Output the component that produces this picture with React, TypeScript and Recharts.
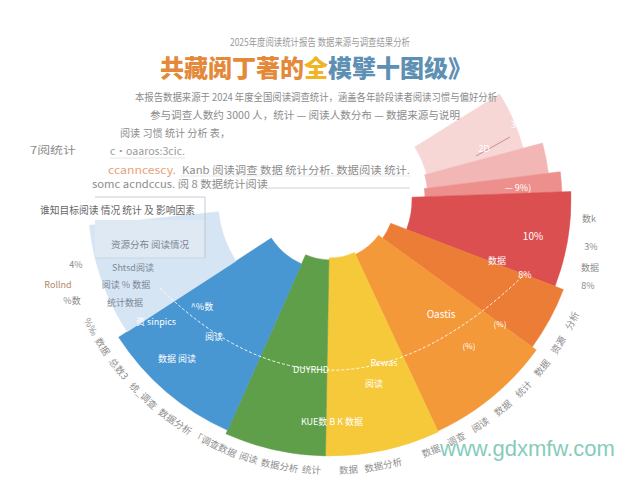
import React from "react";
import { PieChart, Pie, Cell } from "recharts";

// ---- data ----
const categories = ["浅粉", "粉", "鲑红", "红", "深橙", "橙", "黄", "绿", "蓝", "浅蓝"];
const values = [17, 8, 5, 23, 15, 29, 26, 23, 33, 27];
const colors = ["#f7d6d6", "#f2b6b5", "#ed8f8c", "#dc4f50", "#ec7d37", "#f4993a", "#f6c93a", "#5f9f4a", "#4896d2", "#d6e5f4"];
const outerR = [200, 220, 232, 241, 250, 255, 256, 256, 252, 242];
const innerR = [100, 98, 95, 82, 65, 60, 58, 60, 70, 112];

const titleParts = ["共藏阅丁著的", "全", "模擘十图级》"];
const topLine = "2025年度阅读统计报告 数据来源与调查结果分析";
const subLine1 = "本报告数据来源于 2024 年度全国阅读调查统计，涵盖各年龄段读者阅读习惯与偏好分析";
const subLine2 = "参与调查人数约 3000 人，统计 — 阅读人数分布 — 数据来源与说明";
const leftWords = ["%‰", "数据", "总数3", "统_调查", "数据分析", "「调查数据", "阅读", "数据分析", "统计"];
const bottomWords = ["数据", "数据分析"];
const rightWords = ["数据", "调查", "阅读", "数据", "统计", "数据", "资源", "分析"];

const CX = 330;
const CY = 200;
const START = 32;
const SPAN = 206;
const RING = 270;
const FONT = "'Noto Sans CJK SC', 'Noto Sans', sans-serif";

const total = values.reduce((a, b) => a + b, 0);
const K = SPAN / total;
const starts: number[] = [];
values.reduce((acc, v, i) => {
  starts[i] = acc;
  return acc - v * K;
}, START);

function pt(a: number, r: number) {
  const rad = (a * Math.PI) / 180;
  return [CX + r * Math.cos(rad), CY - r * Math.sin(rad)];
}

// lay words along the outer ring, from angle a0 increasing (left -> bottom -> right)
function layWords(words: string[], a0: number, gap: number) {
  const out: { t: string; a: number }[] = [];
  let a = a0;
  words.forEach((w) => {
    const len = w.length * 9;
    const da = (len / RING) * (180 / Math.PI);
    out.push({ t: w, a: a + da / 2 });
    a += da + (gap / RING) * (180 / Math.PI);
  });
  return out;
}
const ringWords = [
  ...layWords(leftWords, -154, 5),
  ...layWords(bottomWords, -88, 8),
  ...layWords(rightWords, -70, 10),
];

const inLabels = [
  { t: "30%", x: 520, y: 128, c: "#fff", s: 9 },
  { t: "2D", x: 484, y: 152, c: "#fff", s: 9 },
  { t: "— 9%)", x: 518, y: 191, c: "#fff", s: 9 },
  { t: "10%", x: 533, y: 240, c: "#fff", s: 10 },
  { t: "数据", x: 497, y: 264, c: "#fff", s: 9 },
  { t: "8%", x: 525, y: 278, c: "#fff", s: 9 },
  { t: "Oastis", x: 441, y: 318, c: "#fff", s: 10 },
  { t: "(%)", x: 500, y: 327, c: "#fff", s: 8 },
  { t: "(%)", x: 469, y: 349, c: "#fff", s: 8 },
  { t: "Rewas", x: 384, y: 366, c: "#fff", s: 9 },
  { t: "阅读", x: 374, y: 387, c: "#fff", s: 9 },
  { t: "DUYRHD", x: 311, y: 373, c: "#fff", s: 9 },
  { t: "KUE数 B K 数据", x: 332, y: 425, c: "#fff", s: 9 },
  { t: "资 sinpics", x: 156, y: 325, c: "#fff", s: 9 },
  { t: "^%数", x: 202, y: 310, c: "#fff", s: 9 },
  { t: "阅读", x: 214, y: 340, c: "#fff", s: 9 },
  { t: "数据 阅读", x: 177, y: 362, c: "#fff", s: 9 },
  { t: "资源分布 阅读情况", x: 150, y: 248, c: "#7d8793", s: 9.5 },
  { t: "Shtsd阅读", x: 133, y: 271, c: "#7d8793", s: 9 },
  { t: "阅读 % 数据", x: 126, y: 288, c: "#7d8793", s: 9 },
  { t: "统计数据", x: 125, y: 306, c: "#7d8793", s: 9 },
  { t: "4%", x: 76, y: 268, c: "#8a8a8a", s: 9 },
  { t: "Rollnd", x: 58, y: 288, c: "#b08a66", s: 9 },
  { t: "%数", x: 72, y: 304, c: "#8a8a8a", s: 9 },
  { t: "数k", x: 589, y: 222, c: "#8a8a8a", s: 9 },
  { t: "3%", x: 591, y: 250, c: "#8a8a8a", s: 9 },
  { t: "数据", x: 590, y: 271, c: "#8a8a8a", s: 9 },
  { t: "8%", x: 588, y: 289, c: "#8a8a8a", s: 9 },
];

export default function App() {
  return (
    <div style={{ position: "absolute", left: 0, top: 0, width: 640, height: 480, background: "#fff" }}>
      <PieChart width={640} height={480} margin={{ top: 0, right: 0, bottom: 0, left: 0 }}>
        {values.map((v, i) => (
          <Pie
            key={categories[i]}
            data={[{ name: categories[i], value: v }]}
            dataKey="value"
            nameKey="name"
            cx={CX}
            cy={CY}
            startAngle={starts[i]}
            endAngle={starts[i] - v * K}
            innerRadius={innerR[i]}
            outerRadius={outerR[i]}
            isAnimationActive={false}
          >
            <Cell fill={colors[i]} stroke={colors[i]} strokeWidth={0.5} />
          </Pie>
        ))}
      </PieChart>
      <svg width={640} height={480} style={{ position: "absolute", left: 0, top: 0, pointerEvents: "none" }} fontFamily={FONT}>
        {/* left box */}
        <rect x={95} y={220} width={110} height={38} fill="#dfe9f4" />
        <line x1={95} y1={197} x2={205} y2={197} stroke="#b9bfc6" strokeWidth={0.8} />
        <line x1={205} y1={197} x2={205} y2={258} stroke="#b9bfc6" strokeWidth={0.8} />
        <line x1={95} y1={258} x2={205} y2={258} stroke="#c5d0dc" strokeWidth={0.8} />
        <line x1={268} y1={188} x2={410} y2={188} stroke="#c8c8c8" strokeWidth={0.8} />
        <line x1={180} y1={176} x2={410} y2={176} stroke="#dcdcdc" strokeWidth={0.6} />
        <line x1={110} y1={158} x2={185} y2={158} stroke="#d6d6d6" strokeWidth={0.6} />

        {/* top texts */}
        <text x={320} y={46} fontSize={10} fill="#9a9a9a" textAnchor="middle" textLength={180} lengthAdjust="spacingAndGlyphs">{topLine}</text>
        <text x={316} y={77} fontSize={24} fontWeight={900} textAnchor="middle">
          <tspan fill="#e4893a">{titleParts[0]}</tspan>
          <tspan fill="#f1b524">{titleParts[1]}</tspan>
          <tspan fill="#5d90b3">{titleParts[2]}</tspan>
        </text>
        <text x={316} y={101} fontSize={10.5} fill="#8c8c8c" textAnchor="middle" textLength={362} lengthAdjust="spacingAndGlyphs">{subLine1}</text>
        <text x={305} y={119} fontSize={10.5} fill="#8c8c8c" textAnchor="middle" textLength={310} lengthAdjust="spacingAndGlyphs">{subLine2}</text>
        <text x={120} y={137} fontSize={10} fill="#8c8c8c" textLength={110} lengthAdjust="spacingAndGlyphs">阅读 习惯 统计 分析 表，</text>
        <text x={30} y={154} fontSize={10} fill="#8c8c8c" textLength={46} lengthAdjust="spacingAndGlyphs">7阅统计</text>
        <text x={110} y={155} fontSize={10} fill="#9a9a9a" textLength={75} lengthAdjust="spacingAndGlyphs">c·oaaros:3cic.</text>
        <text x={108} y={174} fontSize={10.5} fill="#e8a27a" textLength={68} lengthAdjust="spacingAndGlyphs">ccanncescy.</text>
        <text x={182} y={174} fontSize={10} fill="#8c8c8c" textLength={228} lengthAdjust="spacingAndGlyphs">Kanb 阅读调查 数据 统计分析. 数据阅读 统计.</text>
        <text x={92} y={188} fontSize={10} fill="#8c8c8c" textLength={176} lengthAdjust="spacingAndGlyphs">somc acndccus. 阅 8 数据统计阅读</text>
        <text x={40} y={214} fontSize={10.5} fill="#666" textLength={155} lengthAdjust="spacingAndGlyphs">谁知目标阅读 情况 统计 及 影响因素</text>

        {/* dashed arc */}
        <path d="M160,288 Q335,460 527,272" fill="none" stroke="#ffffff" strokeOpacity={0.9} strokeWidth={1} strokeDasharray="3 2" />
        <line x1={476} y1={156} x2={510} y2={137} stroke="#c07a7a" strokeWidth={0.8} />

        {inLabels.map((l, i) => (
          <text key={i} x={l.x} y={l.y} fontSize={l.s} fill={l.c} textAnchor="middle">{l.t}</text>
        ))}

        {/* outer ring labels */}
        {ringWords.map((w, i) => {
          const [x, y] = pt(w.a, RING);
          return (
            <text
              key={"r" + i}
              x={x}
              y={y}
              fontSize={9.5}
              fill="#8f8f8f"
              textAnchor="middle"
              dominantBaseline="central"
              transform={`rotate(${-(w.a + 90)} ${x.toFixed(1)} ${y.toFixed(1)})`}
            >
              {w.t}
            </text>
          );
        })}

        <text x={440} y={456} fontSize={22} fill="#86ccbb" fontFamily="'Liberation Sans', Arial, sans-serif">www.gdxmfw.com</text>
      </svg>
    </div>
  );
}
